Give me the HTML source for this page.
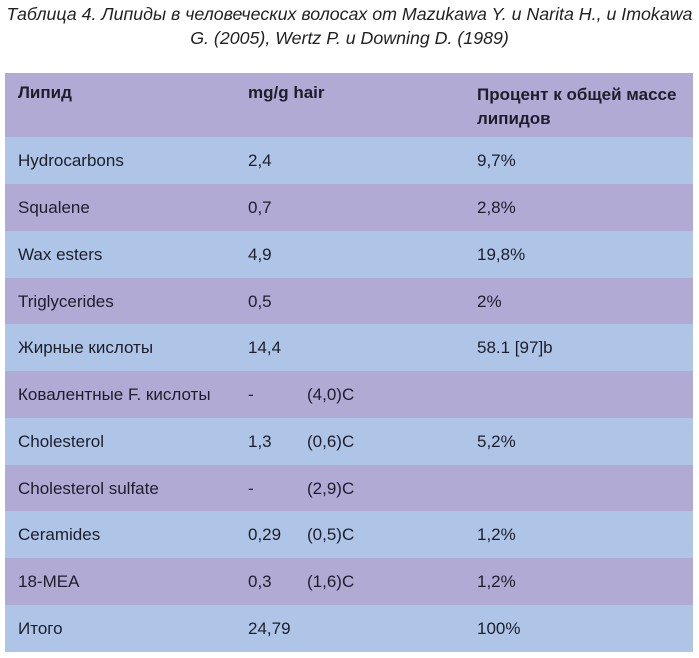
<!DOCTYPE html>
<html><head><meta charset="utf-8"><style>
body{margin:0;width:699px;height:658px;background:#fff;font-family:"Liberation Sans",sans-serif;color:#1e1e2a;position:relative;overflow:hidden}
.t{position:absolute;left:0;width:699px;text-align:center;font-style:italic;font-size:17.8px;line-height:24px;top:2px;color:#222}
.r{position:absolute;left:5px;width:688px;height:47px}
.p{background:#b1aad5}.b{background:#aec5e7}
.c{position:absolute;font-size:17px;white-space:nowrap;top:14px}
.a{left:13px}.m{left:243px}.n{left:302px}.q{left:472px}
</style></head><body>
<div class="t">Таблица 4. Липиды в человеческих волосах от Mazukawa Y. и Narita H., и Imokawa<br>G. (2005), Wertz P. и Downing D. (1989)</div>
<div class="r p" style="top:73px;height:64px">
<div class="c a" style="top:10px;font-weight:bold">Липид</div>
<div class="c m" style="top:10px;font-weight:bold">mg/g hair</div>
<div class="c q" style="top:10px;font-weight:bold;line-height:24px">Процент к общей массе<br>липидов</div>
</div>
<div class="r b" style="top:137px"><div class="c a">Hydrocarbons</div><div class="c m">2,4</div><div class="c q">9,7%</div></div>
<div class="r p" style="top:184px"><div class="c a">Squalene</div><div class="c m">0,7</div><div class="c q">2,8%</div></div>
<div class="r b" style="top:231px"><div class="c a">Wax esters</div><div class="c m">4,9</div><div class="c q">19,8%</div></div>
<div class="r p" style="top:278px"><div class="c a">Triglycerides</div><div class="c m">0,5</div><div class="c q">2%</div></div>
<div class="r b" style="top:324px"><div class="c a">Жирные кислоты</div><div class="c m">14,4</div><div class="c q">58.1 [97]b</div></div>
<div class="r p" style="top:371px"><div class="c a">Ковалентные F. кислоты</div><div class="c m">-</div><div class="c n">(4,0)C</div></div>
<div class="r b" style="top:418px"><div class="c a">Cholesterol</div><div class="c m">1,3</div><div class="c n">(0,6)C</div><div class="c q">5,2%</div></div>
<div class="r p" style="top:465px"><div class="c a">Cholesterol sulfate</div><div class="c m">-</div><div class="c n">(2,9)C</div></div>
<div class="r b" style="top:511px"><div class="c a">Ceramides</div><div class="c m">0,29</div><div class="c n">(0,5)C</div><div class="c q">1,2%</div></div>
<div class="r p" style="top:558px"><div class="c a">18-MEA</div><div class="c m">0,3</div><div class="c n">(1,6)C</div><div class="c q">1,2%</div></div>
<div class="r b" style="top:605px"><div class="c a">Итого</div><div class="c m">24,79</div><div class="c q">100%</div></div>
</body></html>
